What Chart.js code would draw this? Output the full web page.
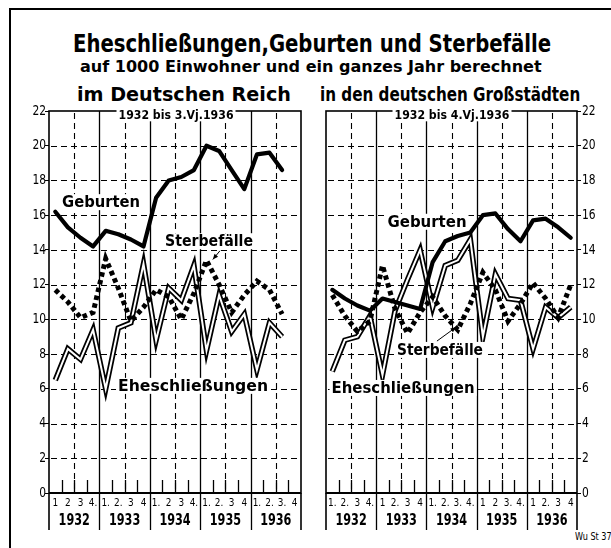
<!DOCTYPE html>
<html>
<head>
<meta charset="utf-8">
<script src="https://cdn.jsdelivr.net/npm/chart.js@4.4.0/dist/chart.umd.min.js"></script>
<style>
    body { margin: 0; background: #fff; width: 611px; height: 548px; overflow: hidden; position: relative;
           font-family: "DejaVu Sans Condensed", "DejaVu Sans", sans-serif; }
    .txt { position: absolute; white-space: nowrap; font-weight: bold; color: #000; transform-origin: left top; line-height: 1; }
    .ln  { position: absolute; background: #000; }
    canvas { position: absolute; }
</style>
</head>
<body>

<div class="ln" style="left:9px;top:8px;width:602px;height:2px;"></div>
<div class="ln" style="left:9px;top:8px;width:2px;height:540px;"></div>

<div class="txt fit" data-w="478" style="left:73px;top:31px;font-size:25px;">Eheschließungen,Geburten und Sterbefälle</div>
<div class="txt fit" data-w="462" style="left:80px;top:59px;font-size:16px;">auf 1000 Einwohner und ein ganzes Jahr berechnet</div>
<div class="txt fit" data-w="214" style="left:77px;top:84px;font-size:20px;">im Deutschen Reich</div>
<div class="txt fit" data-w="260" style="left:320px;top:84px;font-size:20px;">in den deutschen Großstädten</div>
<div class="txt fit" data-w="37" style="left:575px;top:532px;font-size:10px;font-weight:normal;">Wu St 37</div>

<canvas id="chart-reich" width="300" height="440" style="left:10px;top:100px;width:300px;height:440px;"></canvas>
<canvas id="chart-gross" width="295" height="440" style="left:316px;top:100px;width:295px;height:440px;"></canvas>

<script>
/* ── DATA ───────────────────────────────────────────────── */

var YEARS   = ['1932', '1933', '1934', '1935', '1936'];
var Y_TICKS = [0, 2, 4, 6, 8, 10, 12, 14, 16, 18, 20, 22];

// quarter labels as printed under each panel
var QUARTERS_REICH = ['1', '2', '3', '4.', '1.', '2.', '3', '4', '1.', '2', '3', '4.', '1.', '2.', '3', '4', '1.', '2.', '3.', '4'];
var QUARTERS_GROSS = ['1.', '2.', '3', '4.', '1', '2.', '3', '4', '1.', '2.', '3.', '4.', '1', '2', '3.', '4.', '1', '2.', '3', '4'];

// im Deutschen Reich, 1932 Q1 .. 1936 Q3
var GEBURTEN_REICH = [16.2, 15.3, 14.7, 14.2, 15.1, 14.9, 14.6, 14.2, 17.0, 18.0, 18.2, 18.6, 20.0, 19.7, 18.6, 17.5, 19.5, 19.6, 18.6];
var STERBE_REICH   = [11.7, 11.0, 10.1, 10.4, 13.5, 11.8, 9.9, 10.7, 11.7, 11.3, 10.0, 11.5, 13.4, 12.0, 10.4, 11.4, 12.2, 11.7, 10.3];
var EHE_REICH      = [6.5, 8.3, 7.7, 9.4, 6.0, 9.5, 9.8, 13.2, 8.8, 11.8, 11.1, 13.1, 8.2, 11.4, 9.3, 10.3, 7.1, 9.8, 9.0];

// in den deutschen Großstädten, 1932 Q1 .. 1936 Q4
var GEBURTEN_GROSS = [11.7, 11.2, 10.8, 10.5, 11.2, 11.0, 10.8, 10.6, 13.3, 14.5, 14.8, 15.0, 16.0, 16.1, 15.2, 14.5, 15.7, 15.8, 15.3, 14.7];
var STERBE_GROSS   = [11.4, 10.2, 9.3, 9.9, 13.1, 10.6, 9.2, 10.4, 11.3, 10.2, 9.4, 10.9, 12.7, 11.7, 9.9, 10.9, 12.1, 11.2, 10.1, 12.0];
var EHE_GROSS      = [7.0, 8.8, 9.0, 10.2, 6.8, 10.5, 12.3, 14.0, 10.7, 13.1, 13.4, 14.6, 9.0, 12.6, 11.2, 11.1, 8.3, 10.7, 10.1, 10.7];

/* ── HELPERS ────────────────────────────────────────────── */

var FAMILY = '"DejaVu Sans Condensed", "DejaVu Sans", sans-serif';

function toPoints(values) {
    return values.map(function(v, i) { return { x: i + 0.5, y: v }; });
}

function fitTitles() {
    var els = document.querySelectorAll('.fit');
    for (var i = 0; i < els.length; i++) {
        var w = els[i].offsetWidth;
        els[i].style.transform = 'scaleX(' + (parseFloat(els[i].getAttribute('data-w')) / w) + ')';
    }
}

function strokeLine(ctx, x1, y1, x2, y2) {
    ctx.beginPath(); ctx.moveTo(x1, y1); ctx.lineTo(x2, y2); ctx.stroke();
}

function dashLine(ctx, x1, y1, x2, y2, on, off) {
    var len = Math.sqrt((x2 - x1) * (x2 - x1) + (y2 - y1) * (y2 - y1));
    var dx = (x2 - x1) / len, dy = (y2 - y1) / len;
    ctx.beginPath();
    for (var d = 2; d < len; d += on + off) {
        var e = Math.min(d + on, len);
        ctx.moveTo(x1 + dx * d, y1 + dy * d);
        ctx.lineTo(x1 + dx * e, y1 + dy * e);
    }
    ctx.stroke();
}

// narrow text: the print uses a condensed face
function narrowText(ctx, text, x, y, font, sx, align) {
    ctx.save();
    ctx.font = font;
    ctx.translate(x, y);
    ctx.scale(sx, 1);
    ctx.textAlign = align;
    ctx.textBaseline = 'middle';
    ctx.fillStyle = '#000';
    ctx.fillText(text, 0, 0);
    ctx.restore();
}

function tickText(scale, i, fallback) {
    var t = scale.ticks[i];
    return (t && t.label !== undefined && t.label !== '') ? t.label : fallback;
}

// grid of the old print: dashed 2-steps, solid year lines, quarter ticks, box
var paperGrid = {
    id: 'paperGrid',
    beforeDatasetsDraw: function(chart) {
        var ctx = chart.ctx, a = chart.chartArea;
        var xs = chart.scales.x, ys = chart.scales.y;
        ctx.save();
        ctx.strokeStyle = '#000';
        ctx.lineWidth = 1.1;
        Y_TICKS.forEach(function(v) {
            if (v > 0 && v < 22) {
                var y = Math.round(ys.getPixelForValue(v)) + 0.5;
                dashLine(ctx, a.left, y, a.right, y, 6, 4);
            }
        });
        YEARS.forEach(function(yr, i) {
            var x = Math.round(xs.getPixelForValue(i * 4 + 2)) + 0.5;
            dashLine(ctx, x, a.top, x, a.bottom, 6, 4);
        });
        for (var q = 1; q < 20; q++) {
            var qx = Math.round(xs.getPixelForValue(q)) + 0.5;
            ctx.lineWidth = 1.3;
            if (q % 4 === 0) {
                strokeLine(ctx, qx, a.top, qx, a.bottom + 37);
            } else {
                strokeLine(ctx, qx, a.bottom - 13, qx, a.bottom);
            }
        }
        ctx.lineWidth = 1.6;
        ctx.strokeRect(a.left, a.top, a.right - a.left, a.bottom - a.top);
        strokeLine(ctx, a.left, a.bottom, a.left, a.bottom + 37);
        strokeLine(ctx, a.right, a.bottom, a.right, a.bottom + 37);
        ctx.lineWidth = 2;
        strokeLine(ctx, a.left, a.bottom, a.right, a.bottom);
        ctx.restore();
    },
    afterDatasetsDraw: function(chart) {
        var opts = chart.options.plugins.paperGrid;
        var ctx = chart.ctx, a = chart.chartArea;
        var xs = chart.scales.x, ys = chart.scales.y, yr = chart.scales.xYear;

        (opts.labels || []).forEach(function(lab) {
            var px = xs.getPixelForValue(lab.x), py = ys.getPixelForValue(lab.y);
            ctx.save();
            ctx.font = lab.font;
            var w = ctx.measureText(lab.text).width;
            var sx = lab.w ? lab.w / w : 1;
            var ww = w * sx;
            if (lab.bg) {
                ctx.fillStyle = '#fff';
                ctx.fillRect(px - ww / 2 - 2, py - lab.h / 2, ww + 4, lab.h);
            }
            if (lab.arrow) {
                var x1 = xs.getPixelForValue(lab.arrow[0]), y1 = ys.getPixelForValue(lab.arrow[1]);
                var x2 = xs.getPixelForValue(lab.arrow[2]), y2 = ys.getPixelForValue(lab.arrow[3]);
                ctx.strokeStyle = '#000'; ctx.lineWidth = 1;
                strokeLine(ctx, x1, y1, x2, y2);
                var ang = Math.atan2(y2 - y1, x2 - x1);
                ctx.beginPath();
                ctx.moveTo(x2, y2);
                ctx.lineTo(x2 - 6 * Math.cos(ang - 0.4), y2 - 6 * Math.sin(ang - 0.4));
                ctx.lineTo(x2 - 6 * Math.cos(ang + 0.4), y2 - 6 * Math.sin(ang + 0.4));
                ctx.closePath();
                ctx.fillStyle = '#000'; ctx.fill();
            }
            ctx.restore();
            narrowText(ctx, lab.text, px, py + 1, lab.font, sx, 'center');
        });

        // tick labels, taken from the scales' own ticks
        xs.ticks.forEach(function(t, i) {
            narrowText(ctx, tickText(xs, i, opts.quarters[i]), xs.getPixelForTick(i), a.bottom + 10,
                       '11px ' + FAMILY, 0.9, 'center');
        });
        yr.ticks.forEach(function(t, i) {
            narrowText(ctx, tickText(yr, i, YEARS[i]), yr.getPixelForTick(i), a.bottom + 28,
                       'bold 16px ' + FAMILY, 0.78, 'center');
        });
        ys.ticks.forEach(function(t, i) {
            var left = ys.position === 'left';
            narrowText(ctx, tickText(ys, i, String(Y_TICKS[i])),
                       left ? a.left - 3 : a.right + 5, ys.getPixelForTick(i),
                       '14px ' + FAMILY, 0.85, left ? 'right' : 'left');
        });
    }
};

function makePanel(canvasId, quarters, geburten, sterbe, ehe, yPos, padding, labels) {
    return new Chart(document.getElementById(canvasId), {
        type: 'line',
        data: {
            datasets: [
                { label: 'Geburten', data: toPoints(geburten), borderColor: '#000', borderWidth: 4.2,
                  borderJoinStyle: 'round', borderCapStyle: 'round', order: 0 },
                { label: 'Sterbefälle', data: toPoints(sterbe), borderColor: '#000', borderWidth: 5,
                  borderDash: [4.5, 3.5], borderCapStyle: 'butt', order: 1 },
                { label: 'Eheschließungen', data: toPoints(ehe), borderColor: '#fff', borderWidth: 2,
                  borderJoinStyle: 'miter', order: 2 },
                { label: 'Eheschließungen', data: toPoints(ehe), borderColor: '#000', borderWidth: 5.5,
                  borderJoinStyle: 'miter', order: 3 }
            ]
        },
        options: {
            animation: false,
            responsive: false,
            layout: { padding: padding },
            elements: { point: { radius: 0 }, line: { tension: 0 } },
            plugins: {
                legend: { display: false },
                tooltip: { enabled: false },
                paperGrid: { labels: labels, quarters: quarters }
            },
            scales: {
                x: {
                    type: 'linear', position: 'bottom', min: 0, max: 20,
                    afterBuildTicks: function(s) { s.ticks = quarters.map(function(q, i) { return { value: i + 0.5 }; }); },
                    afterFit: function(s) { s.height = 18; },
                    ticks: { display: false, autoSkip: false, maxRotation: 0,
                             callback: function(v, i) { return quarters[i]; } },
                    grid: { display: false }, border: { display: false }
                },
                xYear: {
                    type: 'linear', position: 'bottom', min: 0, max: 20,
                    afterBuildTicks: function(s) { s.ticks = YEARS.map(function(y, i) { return { value: i * 4 + 2 }; }); },
                    afterFit: function(s) { s.height = 29; },
                    ticks: { display: false, autoSkip: false, maxRotation: 0,
                             callback: function(v, i) { return YEARS[i]; } },
                    grid: { display: false }, border: { display: false }
                },
                y: {
                    type: 'linear', position: yPos, min: 0, max: 22,
                    afterBuildTicks: function(s) { s.ticks = Y_TICKS.map(function(v) { return { value: v }; }); },
                    afterFit: function(s) { s.width = 30; },
                    ticks: { display: false, callback: function(v) { return String(v); } },
                    grid: { drawOnChartArea: false, drawTicks: true, tickLength: 4, color: '#000' },
                    border: { display: false }
                }
            }
        },
        plugins: [paperGrid]
    });
}

var LBL = 'bold 16px ' + FAMILY;
var SUB = 'bold 13px ' + FAMILY;

var LABELS_REICH = [
    { text: 'Geburten',           x: 4.13,  y: 16.75, w: 78,  h: 16, font: LBL, bg: true },
    { text: 'Sterbefälle',        x: 12.7,  y: 14.5,  w: 88,  h: 16, font: LBL, bg: true, arrow: [13.57, 13.95, 13.0, 13.45] },
    { text: 'Eheschließungen',    x: 11.43, y: 6.17,  w: 150, h: 16, font: LBL, bg: true },
    { text: '1932 bis 3.Vj.1936', x: 10.08, y: 21.78, w: 115, h: 13, font: SUB, bg: true }
];
var LABELS_GROSS = [
    { text: 'Geburten',           x: 8.05,  y: 15.62, w: 79,  h: 16, font: LBL, bg: true },
    { text: 'Sterbefälle',        x: 9.08,  y: 8.24,  w: 86,  h: 16, font: LBL, bg: true, arrow: [8.84, 8.75, 10.36, 9.55] },
    { text: 'Eheschließungen',    x: 6.14,  y: 6.05,  w: 143, h: 16, font: LBL, bg: true },
    { text: '1932 bis 4.Vj.1936', x: 10.04, y: 21.78, w: 115, h: 13, font: SUB, bg: true }
];

fitTitles();
makePanel('chart-reich', QUARTERS_REICH, GEBURTEN_REICH, STERBE_REICH, EHE_REICH, 'left',
          { left: 9, right: 9, top: 11, bottom: 0 }, LABELS_REICH);
makePanel('chart-gross', QUARTERS_GROSS, GEBURTEN_GROSS, STERBE_GROSS, EHE_GROSS, 'right',
          { left: 10, right: 4, top: 11, bottom: 0 }, LABELS_GROSS);
</script>
</body>
</html>
